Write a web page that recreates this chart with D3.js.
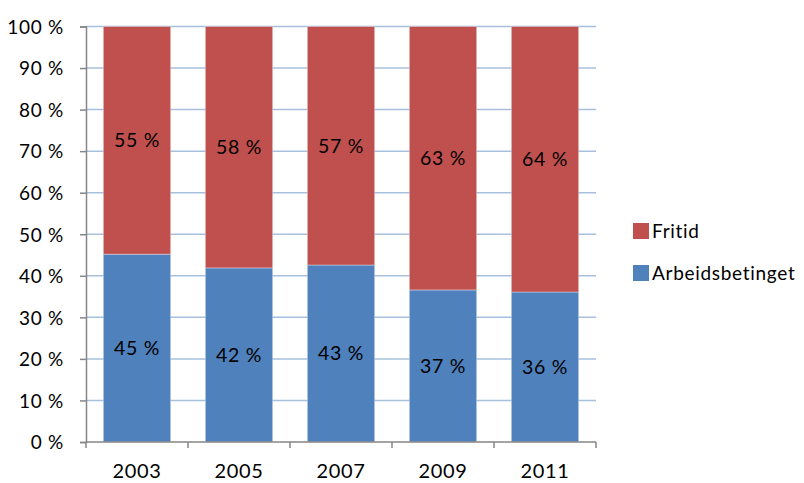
<!DOCTYPE html>
<html>
<head>
<meta charset="utf-8">
<script src="https://cdn.jsdelivr.net/npm/d3@7"></script>
<style>
  body { margin: 0; background: #fff; }
  text { font-family: Lato, "Open Sans", sans-serif; fill: #000; letter-spacing: 0.7px; }
</style>
</head>
<body>
<script>
// years along the bottom
var years = ["2003", "2005", "2007", "2009", "2011"];

// share of each cause, in percent (blue at bottom, red on top)
var arbeid = [45.2, 41.9, 42.6, 36.6, 36.1];
var fritid = [54.8, 58.1, 57.4, 63.4, 63.9];

var seriesNames = ["Arbeidsbetinget", "Fritid"];
var seriesColors = ["#4F81BD", "#C0504D"];

var yTicks = [0, 10, 20, 30, 40, 50, 60, 70, 80, 90, 100];

var w = 804, h = 483;
var plotL = 86, plotR = 596, plotT = 26.5, plotB = 442;

var svg = d3.select("body").append("svg")
  .attr("width", w)
  .attr("height", h);

var x = d3.scaleBand()
  .domain(years)
  .range([plotL, plotR])
  .paddingInner(0.34)
  .paddingOuter(0.17);

var xCat = d3.scaleBand() // plain bands, for the tick marks between years
  .domain(years)
  .range([plotL, plotR]);

var y = d3.scaleLinear()
  .domain([0, 100])
  .range([plotB, plotT]);

// gridlines
svg.append("g")
  .selectAll("line")
  .data(yTicks.slice(1))
  .enter()
  .append("line")
  .attr("x1", plotL)
  .attr("x2", plotR)
  .attr("y1", function(d){ return y(d); })
  .attr("y2", function(d){ return y(d); })
  .attr("stroke", "#A7C0DE")
  .attr("stroke-width", 1.5);

// stack the two series
var rows = years.map(function(yr, i){
  return { year: yr, Arbeidsbetinget: arbeid[i], Fritid: fritid[i] };
});
var stack = d3.stack().keys(seriesNames)(rows);

var layers = svg.selectAll("g.layer")
  .data(stack)
  .enter()
  .append("g")
  .attr("class", "layer")
  .attr("fill", function(d, i){ return seriesColors[i]; });

layers.selectAll("rect")
  .data(function(d){ return d; })
  .enter()
  .append("rect")
  .attr("x", function(d){ return x(d.data.year); })
  .attr("width", x.bandwidth())
  .attr("y", function(d){ return y(d[1]); })
  .attr("height", function(d){ return y(d[0]) - y(d[1]); })
  .attr("stroke", "#fff")
  .attr("stroke-opacity", 0.35)
  .attr("stroke-width", 1);

// data labels in the middle of each segment
layers.selectAll("text")
  .data(function(d){ return d; })
  .enter()
  .append("text")
  .attr("x", function(d){ return x(d.data.year) + x.bandwidth() / 2; })
  .attr("y", function(d){ return (y(d[0]) + y(d[1])) / 2 + 7; })
  .attr("text-anchor", "middle")
  .attr("font-size", "19.5px")
  .text(function(d){ return Math.round(d[1] - d[0]) + " %"; });

// y axis
var yAxis = d3.axisLeft(y)
  .tickValues(yTicks)
  .tickSize(6)
  .tickPadding(16)
  .tickFormat(function(d){ return d + " %"; });

var gy = svg.append("g")
  .attr("transform", "translate(" + plotL + ",0)")
  .call(yAxis);
gy.select(".domain").attr("stroke", "#868686").attr("stroke-width", 1.5);
gy.selectAll(".tick line").attr("stroke", "#868686").attr("stroke-width", 1.5);
gy.selectAll(".tick text").attr("font-size", "19px").attr("dy", "0.36em");

// x axis
var xAxis = d3.axisBottom(x).tickSize(0).tickPadding(22);

var gx = svg.append("g")
  .attr("transform", "translate(0," + plotB + ")")
  .call(xAxis);
gx.select(".domain").remove();
gx.selectAll(".tick text").attr("font-size", "20px");

gx.append("line")
  .attr("x1", plotL)
  .attr("x2", plotR)
  .attr("stroke", "#868686")
  .attr("stroke-width", 1.5);

gx.selectAll("line.sep")
  .data(years.concat(["end"]))
  .enter()
  .append("line")
  .attr("class", "sep")
  .attr("x1", function(d, i){ return i < years.length ? xCat(d) : plotR; })
  .attr("x2", function(d, i){ return i < years.length ? xCat(d) : plotR; })
  .attr("y1", 0)
  .attr("y2", 6)
  .attr("stroke", "#868686")
  .attr("stroke-width", 1.5);

// legend (Fritid on top)
var legendItems = [1, 0];
var legend = svg.selectAll("g.legend")
  .data(legendItems)
  .enter()
  .append("g")
  .attr("class", "legend")
  .attr("transform", function(d, i){ return "translate(633," + (223 + i * 42) + ")"; });

legend.append("rect")
  .attr("width", 16)
  .attr("height", 16)
  .attr("fill", function(d){ return seriesColors[d]; });

legend.append("text")
  .attr("x", 19)
  .attr("y", 15)
  .attr("font-size", "19px")
  .text(function(d){ return seriesNames[d]; });
</script>
</body>
</html>
